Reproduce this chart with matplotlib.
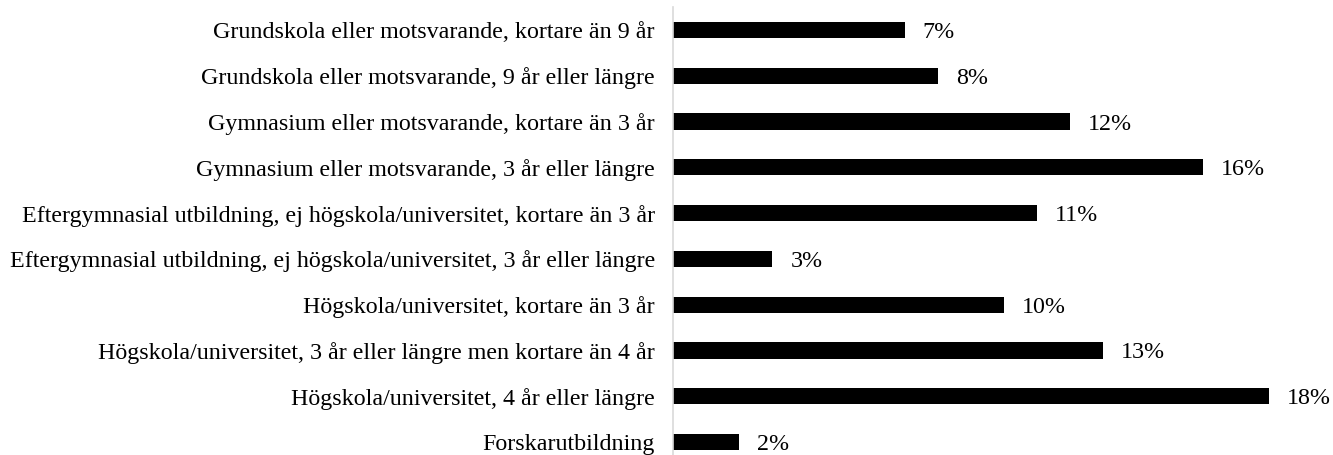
import matplotlib
matplotlib.use("Agg")
import matplotlib.pyplot as plt

categories = [
    "Grundskola eller motsvarande, kortare än 9 år",
    "Grundskola eller motsvarande, 9 år eller längre",
    "Gymnasium eller motsvarande, kortare än 3 år",
    "Gymnasium eller motsvarande, 3 år eller längre",
    "Eftergymnasial utbildning, ej högskola/universitet, kortare än 3 år",
    "Eftergymnasial utbildning, ej högskola/universitet, 3 år eller längre",
    "Högskola/universitet, kortare än 3 år",
    "Högskola/universitet, 3 år eller längre men kortare än 4 år",
    "Högskola/universitet, 4 år eller längre",
    "Forskarutbildning",
]
values = [7, 8, 12, 16, 11, 3, 10, 13, 18, 2]
value_labels = ["7%", "8%", "12%", "16%", "11%", "3%", "10%", "13%", "18%", "2%"]

plt.rcParams['font.family'] = ['Liberation Serif', 'DejaVu Serif']

fig = plt.figure(figsize=(13.33, 4.55), dpi=100)
ax = fig.add_axes([673/1333, -10/455, 662/1333, 458/455])

y = list(range(len(categories)))
ax.barh(y, values, height=0.35, color="black")
ax.set_yticks(y)
ax.set_yticklabels(categories, fontsize=17.3)
ax.set_ylim(len(categories) - 0.5, -0.5)
ax.set_xlim(0, 20)
ax.tick_params(axis='y', length=0, pad=13)
ax.set_xticks([])
for s in ["top", "right", "bottom"]:
    ax.spines[s].set_visible(False)
ax.spines["left"].set_color("#d9d9d9")
ax.spines["left"].set_linewidth(1.2)

for yi, v, lab in zip(y, values, value_labels):
    ax.annotate(lab, (v, yi), xytext=(13, 0), textcoords="offset points",
                va="center_baseline", ha="left", fontsize=17.3)

fig.savefig("out.png", dpi=100)
